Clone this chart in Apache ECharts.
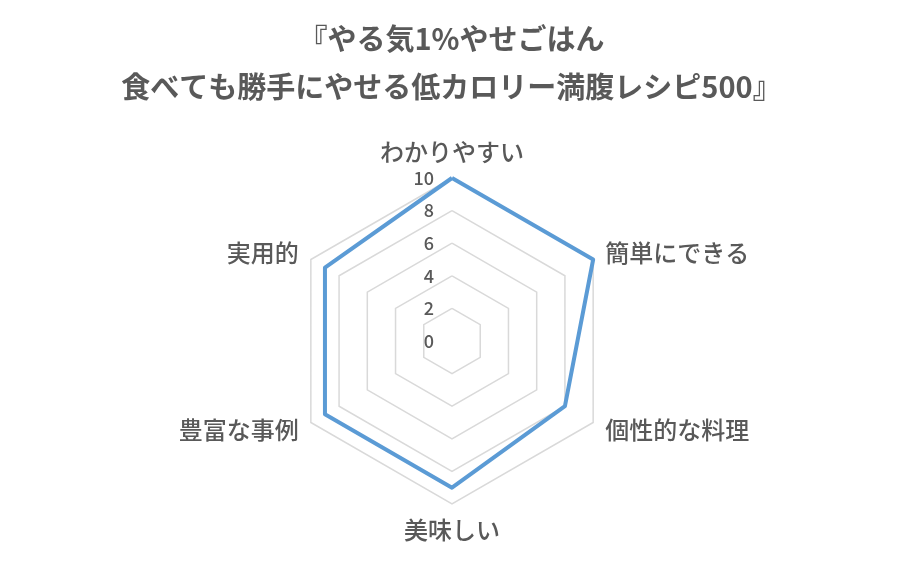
<!DOCTYPE html>
<html>
<head>
<meta charset="utf-8">
<script src="https://cdn.jsdelivr.net/npm/echarts@6/dist/echarts.min.js"></script>
<style>
  html, body { margin: 0; padding: 0; background: #fff; }
  #main { width: 903px; height: 566px; }
</style>
</head>
<body>
<div id="main"></div>
<script>
let titleText = '『やる気1%やせごはん\n食べても勝手にやせる低カロリー満腹レシピ500』';
/**評価項目（上から時計回り） */
let itemNames = ['わかりやすい', '簡単にできる', '個性的な料理', '美味しい', '豊富な事例', '実用的'];
/**評価点 */
let scores = [10, 10, 8, 9, 9, 9];
let scoreMax = 10;

let chartDom = document.getElementById('main');
let chartIns = echarts.init(chartDom);
let fontFam = '"Noto Sans CJK JP", "Noto Sans", sans-serif';

// echartsのradarは反時計回りなので、先頭以外を逆順にする
let order = [0].concat(itemNames.map((n, i) => i).slice(1).reverse());

let option = {
  backgroundColor: '#fff',
  animation: false,
  title: {
    text: titleText,
    left: 'center',
    top: 10,
    textStyle: {
      color: '#595959',
      fontSize: 29,
      fontWeight: 'bold',
      lineHeight: 48,
      fontFamily: fontFam
    }
  },
  radar: {
    center: [452, 341],
    radius: 163,
    startAngle: 90,
    shape: 'polygon',
    splitNumber: 5,
    nameGap: 14,
    axisName: {
      color: '#595959',
      fontSize: 24,
      fontWeight: 500,
      fontFamily: fontFam
    },
    // 先頭の軸だけ目盛りを表示
    indicator: order.map((idx, i) => {
      let ind = { name: itemNames[idx], min: 0, max: scoreMax };
      if (i === 0) {
        ind.axisLabel = {
          show: true,
          color: '#595959',
          fontSize: 18,
          fontWeight: 500,
          fontFamily: fontFam,
          margin: 18
        };
      }
      return ind;
    }),
    axisLine: { show: false },
    axisTick: { show: false },
    axisLabel: { show: false },
    splitArea: { show: false },
    splitLine: {
      lineStyle: { color: '#d9d9d9', width: 1.5 }
    }
  },
  series: [{
    type: 'radar',
    symbol: 'none',
    lineStyle: { color: '#5b9bd5', width: 4, join: 'round' },
    data: [{ value: order.map(idx => scores[idx]), name: '評価' }]
  }]
};
chartIns.setOption(option);
</script>
</body>
</html>
